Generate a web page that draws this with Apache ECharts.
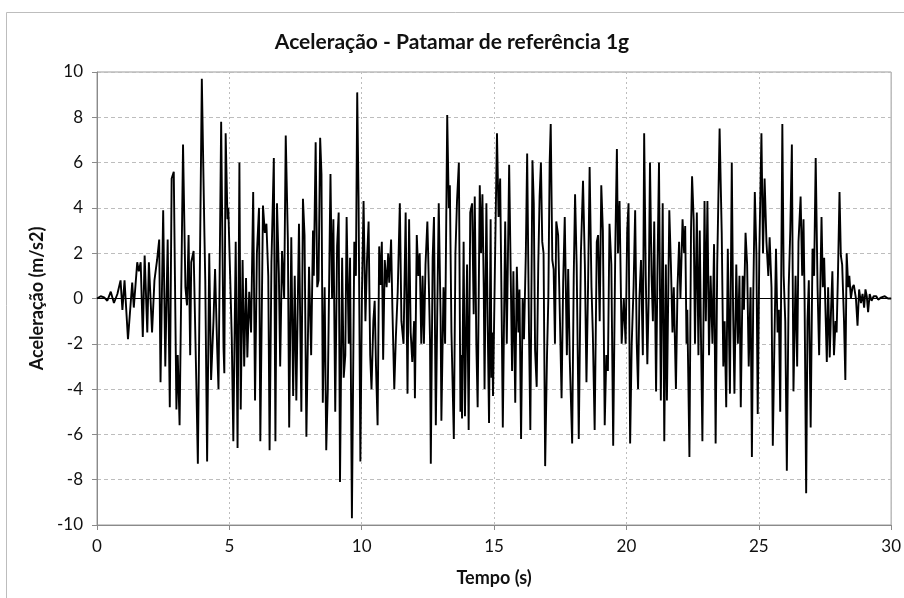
<!DOCTYPE html>
<html>
<head>
<meta charset="utf-8">
<script src="https://cdn.jsdelivr.net/npm/echarts@6/dist/echarts.min.js"></script>
<style>
  html, body { margin: 0; padding: 0; background: #fff; }
  #chart { width: 904px; height: 598px; }
</style>
</head>
<body>
<div id="chart"></div>
<script>
// time (s) and acceleration (m/s2), peaks
var tempo = [
  0, 0.14, 0.27, 0.39, 0.52, 0.64, 0.77, 0.89, 0.96, 1.04, 1.17, 1.33, 1.39, 1.52, 1.58, 1.65, 1.73, 1.80, 1.90, 1.96,
  2.08, 2.17, 2.27, 2.35, 2.40, 2.50, 2.58, 2.67, 2.75, 2.82, 2.90, 3.00, 3.05, 3.12, 3.25, 3.34, 3.40, 3.46, 3.52, 3.56,
  3.65, 3.75, 3.81, 3.96, 4.06, 4.09, 4.16, 4.24, 4.31, 4.40, 4.46, 4.54, 4.59, 4.69, 4.78, 4.81, 4.86, 4.93, 4.96, 5.03,
  5.09, 5.15, 5.24, 5.31, 5.38, 5.43, 5.50, 5.56, 5.63, 5.68, 5.75, 5.82, 5.90, 5.97, 6.04, 6.12, 6.17, 6.27, 6.34, 6.40,
  6.47, 6.52, 6.59, 6.68, 6.74, 6.80, 6.87, 6.92, 6.99, 7.07, 7.13, 7.21, 7.26, 7.34, 7.41, 7.47, 7.53, 7.63, 7.72, 7.78,
  7.84, 7.91, 8.01, 8.09, 8.16, 8.19, 8.26, 8.32, 8.37, 8.43, 8.48, 8.53, 8.60, 8.66, 8.72, 8.82, 8.88, 8.93, 9.00, 9.07,
  9.13, 9.18, 9.26, 9.32, 9.38, 9.43, 9.51, 9.56, 9.63, 9.72, 9.78, 9.83, 9.88, 9.95, 10.01, 10.07, 10.14, 10.20, 10.26, 10.32,
  10.37, 10.44, 10.49, 10.54, 10.60, 10.66, 10.71, 10.76, 10.81, 10.87, 10.94, 11.00, 11.04, 11.11, 11.16, 11.23, 11.29, 11.36, 11.44, 11.50,
  11.58, 11.66, 11.73, 11.79, 11.85, 11.91, 11.98, 12.01, 12.08, 12.14, 12.19, 12.25, 12.30, 12.35, 12.41, 12.48, 12.51, 12.58, 12.61, 12.68,
  12.73, 12.80, 12.85, 12.91, 12.98, 13.01, 13.09, 13.15, 13.23, 13.29, 13.33, 13.39, 13.48, 13.54, 13.60, 13.67, 13.73, 13.76, 13.79, 13.85,
  13.90, 13.98, 14.04, 14.10, 14.17, 14.23, 14.27, 14.33, 14.38, 14.46, 14.51, 14.56, 14.61, 14.64, 14.71, 14.76, 14.81, 14.87, 14.90, 14.93,
  14.96, 15.03, 15.11, 15.17, 15.23, 15.29, 15.33, 15.42, 15.48, 15.57, 15.63, 15.68, 15.73, 15.80, 15.86, 15.92, 15.96, 16.02, 16.08, 16.13,
  16.20, 16.25, 16.32, 16.37, 16.45, 16.50, 16.55, 16.61, 16.67, 16.72, 16.77, 16.82, 16.87, 16.93, 17.00, 17.05, 17.10, 17.14, 17.20, 17.25,
  17.30, 17.35, 17.42, 17.49, 17.55, 17.61, 17.67, 17.75, 17.80, 17.86, 17.95, 18.01, 18.06, 18.12, 18.20, 18.28, 18.36, 18.43, 18.49, 18.55,
  18.61, 18.68, 18.73, 18.80, 18.88, 18.93, 18.99, 19.05, 19.11, 19.18, 19.24, 19.30, 19.36, 19.43, 19.50, 19.58, 19.64, 19.68, 19.74, 19.82,
  19.90, 19.97, 20.03, 20.08, 20.14, 20.20, 20.27, 20.33, 20.39, 20.44, 20.49, 20.55, 20.62, 20.67, 20.73, 20.79, 20.84, 20.89, 20.95, 21.00,
  21.05, 21.12, 21.17, 21.23, 21.30, 21.37, 21.43, 21.49, 21.53, 21.62, 21.68, 21.74, 21.79, 21.87, 21.93, 21.99, 22.04, 22.12, 22.18, 22.22,
  22.27, 22.30, 22.38, 22.44, 22.48, 22.54, 22.59, 22.66, 22.72, 22.77, 22.82, 22.87, 22.95, 23.00, 23.06, 23.12, 23.18, 23.25, 23.31, 23.37,
  23.43, 23.52, 23.60, 23.66, 23.71, 23.77, 23.83, 23.91, 23.98, 24.03, 24.08, 24.15, 24.21, 24.27, 24.32, 24.39, 24.44, 24.50, 24.56, 24.62,
  24.69, 24.74, 24.79, 24.85, 24.91, 24.96, 25.02, 25.10, 25.16, 25.22, 25.29, 25.36, 25.41, 25.48, 25.53, 25.59, 25.65, 25.71, 25.76, 25.81,
  25.89, 25.94, 26.00, 26.06, 26.13, 26.19, 26.25, 26.31, 26.39, 26.45, 26.50, 26.58, 26.64, 26.69, 26.73, 26.79, 26.84, 26.89, 26.96, 27.03,
  27.09, 27.15, 27.22, 27.28, 27.37, 27.42, 27.47, 27.53, 27.57, 27.62, 27.68, 27.73, 27.78, 27.84, 27.90, 27.94, 27.99, 28.05, 28.10, 28.15,
  28.22, 28.27, 28.32, 28.38, 28.42, 28.48, 28.54, 28.59, 28.67, 28.73, 28.79, 28.86, 28.92, 28.98, 29.03, 29.08, 29.13, 29.19, 29.26, 29.34,
  29.44, 29.51, 29.63, 29.76, 29.88, 30.0
];
var aceleracao = [
  0, 0.1, 0.05, -0.1, 0.3, -0.2, 0.2, 0.8, -0.5, 0.8, -1.8, 0.7, -0.4, 1.6, 1.2, 1.6, -1.7, 1.9, -1.5, 1.6,
  -1.5, 0.8, 1.7, 2.6, -3.7, 3.9, -3.0, 2.6, -4.8, 5.3, 5.6, -4.9, -2.5, -5.6, 6.8, 0.5, -0.3, 2.8, -2.5, 1.6,
  2.1, -3.6, -7.3, 9.7, 2.7, 0.8, -7.2, 2.0, -3.6, -1.0, 1.3, -2.2, -4.0, 7.8, -2.2, -3.3, 7.3, 3.5, 4.0, 1.0,
  -1.7, -6.3, 2.5, -6.6, 6.0, -4.9, 1.7, -3.0, 0.9, -2.6, 0.3, -1.5, 4.7, -4.5, 2.0, 4.0, -6.3, 4.1, 2.9, 3.3,
  1.0, -6.7, 1.6, 6.2, -6.3, 4.2, 1.1, -3.0, 2.1, 0.0, 7.2, 2.6, -5.7, 2.7, -4.3, 1.0, -4.5, 3.3, -5.0, 4.4,
  2.8, -6.1, 1.4, -2.5, 3.0, 1.0, 6.9, 0.5, 0.8, 7.1, 5.5, -4.6, 0.5, -6.7, -4.0, 5.5, 0.0, 3.5, -5.0, 2.3,
  3.8, -8.1, 1.8, -3.5, -2.5, 3.6, -2.0, 1.8, -9.7, 2.5, 1.0, 9.1, 4.5, -7.2, 0.3, 4.3, -1.0, 1.7, 3.4, -2.5,
  -4.0, -1.0, -0.1, -3.0, -5.6, 2.3, 0.6, 2.5, -2.7, 1.7, 0.5, 2.0, 0.7, 2.6, -0.5, -4.0, -1.7, 0.3, 4.2, -1.0,
  -2.0, 3.8, -4.2, 3.5, -1.5, -2.8, -1.0, -4.4, 2.8, 1.0, 2.0, -2.0, 1.0, -2.0, 1.5, 3.4, 2.0, -1.8, -7.3, 1.8,
  3.6, -5.6, -1.0, 4.2, -0.8, -5.4, 0.5, -2.0, 8.1, 4.0, 5.0, -1.5, -6.2, 2.0, 4.3, 6.0, -5.0, -2.5, -5.3, 2.5,
  -5.2, 1.5, -5.8, 3.8, 4.2, -0.7, 4.5, -2.0, -4.8, 5.0, 2.0, 4.6, 0.5, -4.0, 4.2, -1.2, -5.5, 3.5, -3.5, -1.5,
  -4.3, 1.2, 7.3, 3.6, 5.3, -1.0, -5.7, 3.4, -2.0, 5.9, 1.0, -3.2, 1.2, -4.6, 1.4, -1.5, 0.4, -6.2, 0.0, -1.8,
  2.0, 6.4, -1.5, -5.8, 6.1, 4.2, -2.3, -3.9, 1.5, 4.5, 6.0, 2.5, 2.0, -7.4, -2.5, 0.0, 6.0, 7.7, 1.7, 1.3,
  -2.0, 3.4, 2.8, -1.0, -4.4, 0.7, 3.6, -2.5, 1.3, -2.7, -6.4, 1.0, 4.6, 1.5, -6.2, 2.0, 5.2, 1.5, -3.7, 0.5,
  5.8, 0.5, -1.5, -5.8, 2.5, 2.8, -1.0, 5.0, 3.0, -5.6, -2.5, -3.2, 3.3, 1.5, -6.5, 2.3, 6.6, 2.0, 4.3, -2.0,
  0.0, -2.0, 3.0, 4.2, -6.4, -2.0, 0.5, 3.9, -2.0, -4.0, 0.0, 1.7, -2.5, 7.3, 1.0, -2.9, 0.0, 6.0, 1.0, -1.0,
  3.4, -4.1, 1.0, 6.0, -4.5, 4.2, -6.3, 1.5, -4.5, 3.9, 1.5, -1.5, 0.5, -4.0, 0.5, 2.5, 0.0, 3.5, 2.0, 3.2,
  -2.0, -0.5, -7.0, 3.0, 5.4, 3.5, -2.0, 3.8, -2.5, 3.0, -2.0, -6.3, 4.3, -1.0, 4.3, -2.5, 1.0, -2.0, 2.4, -6.4,
  1.5, 7.5, 2.9, -3.0, -1.0, -4.8, 2.2, -4.2, 6.0, -0.5, -4.2, 1.5, -2.0, 1.0, -4.8, 1.0, -0.5, 2.9, 1.5, -3.0,
  0.5, -7.0, 0.0, 4.7, 2.0, -5.1, 2.0, 7.3, 2.0, 5.3, 2.5, 1.0, 2.7, 0.5, -6.5, -2.0, 2.2, -1.5, -0.5, -5.0,
  7.7, 1.0, -1.0, -7.6, 0.5, 3.0, 6.8, -4.1, 1.0, -3.0, 2.5, 4.5, 1.0, 3.5, 0.0, -8.6, -1.0, 0.8, -5.7, 2.2,
  1.0, 6.2, 0.5, -2.5, 3.6, 0.5, 1.8, -1.0, -2.8, 0.5, -2.6, -0.5, 1.2, -2.5, -1.0, -1.5, 1.0, 4.7, 1.9, 1.5,
  -1.0, -3.6, 2.0, 0.5, 1.0, 0.0, 0.5, 0.6, 0.0, -1.2, 0.4, -0.2, 0.2, -0.4, 0.4, 0.1, -0.6, 0.2, -0.1, 0.1,
  0.1, -0.05, 0.05, 0.1, 0.0, 0.0
];
var xTicks = [0, 5, 10, 15, 20, 25, 30];
var yTicks = [-10, -8, -6, -4, -2, 0, 2, 4, 6, 8, 10];

var pontos = tempo.map(function (t, i) { return [t, aceleracao[i]]; });

var chart = echarts.init(document.getElementById('chart'));
var fonte = 'Lato, "Open Sans", sans-serif';
chart.setOption({
  animation: false,
  backgroundColor: '#fff',
  textStyle: { fontFamily: fonte },
  title: {
    text: 'Aceleração - Patamar de referência 1g',
    left: 'center',
    top: 27,
    textStyle: { fontSize: 21, fontWeight: 'bold', color: '#111', fontFamily: fonte }
  },
  graphic: [{
    type: 'rect',
    shape: { x: 6.5, y: 12.5, width: 904, height: 600 },
    style: { fill: 'none', stroke: '#bdbdbd', lineWidth: 1 },
    silent: true
  }],
  grid: { left: 97, right: 9, top: 72, bottom: 73, show: true, borderColor: '#9a9a9a', borderWidth: 1 },
  xAxis: {
    type: 'value',
    min: xTicks[0],
    max: xTicks[xTicks.length - 1],
    interval: 5,
    name: 'Tempo (s)',
    nameLocation: 'middle',
    nameGap: 44,
    nameTextStyle: { fontSize: 18, fontWeight: 'bold', color: '#111' },
    axisLine: { onZero: false, lineStyle: { color: '#8a8a8a' } },
    axisTick: { show: true, length: 5, lineStyle: { color: '#8a8a8a' } },
    axisLabel: { fontSize: 17, color: '#111', margin: 13 },
    splitLine: { show: true, lineStyle: { color: '#bdbdbd', type: [2, 3] } }
  },
  yAxis: {
    type: 'value',
    min: yTicks[0],
    max: yTicks[yTicks.length - 1],
    interval: 2,
    name: 'Aceleração (m/s2)',
    nameLocation: 'middle',
    nameGap: 50,
    nameTextStyle: { fontSize: 18, fontWeight: 'bold', color: '#111' },
    axisLine: { show: true, lineStyle: { color: '#8a8a8a' } },
    axisTick: { show: true, length: 5, lineStyle: { color: '#8a8a8a' } },
    axisLabel: { fontSize: 17, color: '#111', margin: 14 },
    splitLine: { show: true, lineStyle: { color: '#bdbdbd', type: [4, 3] } }
  },
  series: [{
    type: 'line',
    data: pontos,
    showSymbol: false,
    symbol: 'none',
    lineStyle: { color: '#000', width: 1.9 },
    z: 3,
    markLine: {
      silent: true,
      symbol: 'none',
      label: { show: false },
      lineStyle: { color: '#000', width: 1, type: 'solid' },
      data: [{ yAxis: 0 }]
    }
  }]
});
</script>
</body>
</html>
